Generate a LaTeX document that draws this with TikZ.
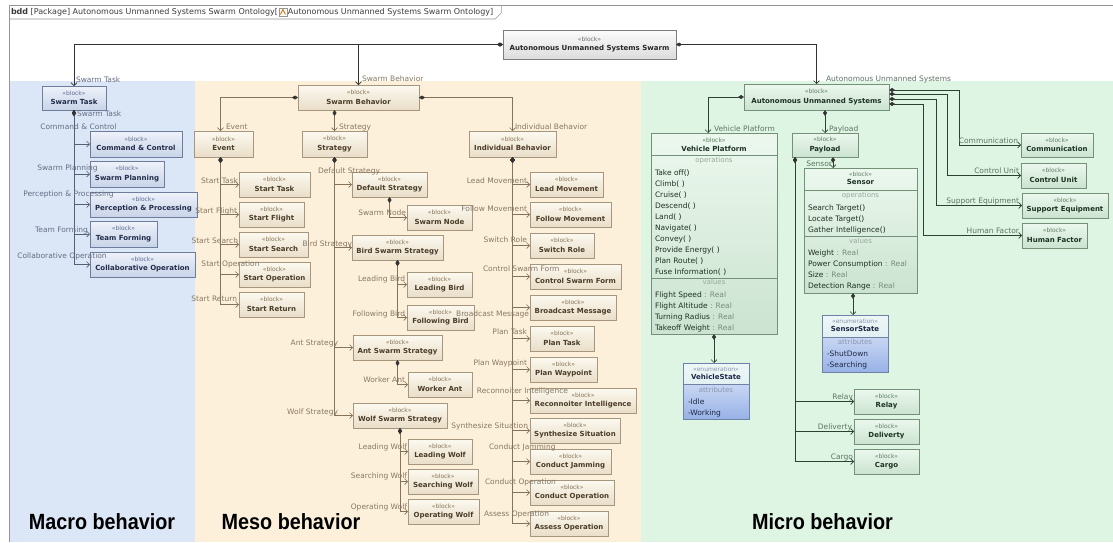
\documentclass[tikz,border=0pt]{standalone}
\usepackage{fontspec}
\usepackage{graphicx}
\setmainfont{DejaVu Sans}
\newfontfamily\bandfont{Liberation Sans}
\usetikzlibrary{arrows.meta,calc}

% region backgrounds and frame
\definecolor{macBg}{RGB}{219,231,246}
\definecolor{mesBg}{RGB}{253,240,219}
\definecolor{micBg}{RGB}{223,245,228}
\definecolor{frameC}{RGB}{150,150,150}
\definecolor{hdrTxt}{RGB}{60,60,60}
% macro (blue) blocks
\definecolor{macTop}{RGB}{238,242,250}
\definecolor{macBot}{RGB}{200,212,232}
\definecolor{macBrd}{RGB}{110,125,155}
\definecolor{macTxt}{RGB}{35,45,75}
\definecolor{macSt}{RGB}{95,108,145}
\definecolor{macLn}{RGB}{85,95,120}
\definecolor{macLbl}{RGB}{100,110,135}
% meso (beige) blocks
\definecolor{mesTop}{RGB}{252,249,240}
\definecolor{mesBot}{RGB}{233,222,200}
\definecolor{mesBrd}{RGB}{165,150,125}
\definecolor{mesTxt}{RGB}{75,60,40}
\definecolor{mesSt}{RGB}{135,115,85}
\definecolor{mesLn}{RGB}{130,115,90}
\definecolor{mesLbl}{RGB}{135,120,100}
% micro (green) blocks
\definecolor{micTop}{RGB}{236,248,238}
\definecolor{micBot}{RGB}{203,227,208}
\definecolor{micBrd}{RGB}{115,145,120}
\definecolor{micTxt}{RGB}{30,50,35}
\definecolor{micSt}{RGB}{95,125,100}
\definecolor{micLn}{RGB}{45,65,50}
\definecolor{micLbl}{RGB}{95,115,100}
\definecolor{micSec}{RGB}{150,170,155}
\definecolor{micVal}{RGB}{120,140,125}
% root block
\definecolor{topTop}{RGB}{252,252,252}
\definecolor{topBot}{RGB}{220,220,220}
\definecolor{topBrd}{RGB}{125,125,125}
\definecolor{topSt}{RGB}{110,110,110}
\definecolor{topTxt}{RGB}{40,40,40}
\definecolor{topLn}{RGB}{50,50,50}
% enumerations
\definecolor{enTop}{RGB}{238,247,247}
\definecolor{enMid}{RGB}{208,230,234}
\definecolor{enLoT}{RGB}{200,214,243}
\definecolor{enLoB}{RGB}{152,178,230}
\definecolor{enBrd}{RGB}{110,130,165}
\definecolor{enTxt}{RGB}{30,40,70}
\definecolor{enSec}{RGB}{140,150,175}

% a block: region prefix, name, x1, y1, x2, y2, title
\newcommand\blk[7]{%
  \node[#1blk, minimum width={#5-#3}, minimum height={#6-#4}] (#2)
    at ({(#3+#5)/2},{(#4+#6)/2})
    {{\color{#1St}\fontsize{6}{7}\selectfont «block»}\\{\bfseries #7}};}

\begin{document}
\begin{tikzpicture}[x=1pt,y=-1pt,
  every node/.style={inner sep=0pt, outer sep=0pt},
  blk/.style={rectangle, line width=0.7pt, align=center, font=\fontsize{7}{9.5}\selectfont},
  topblk/.style={blk, draw=topBrd, top color=topTop, bottom color=topBot, text=topTxt},
  macblk/.style={blk, draw=macBrd, top color=macTop, bottom color=macBot, text=macTxt},
  mesblk/.style={blk, draw=mesBrd, top color=mesTop, bottom color=mesBot, text=mesTxt},
  micblk/.style={blk, draw=micBrd, top color=micTop, bottom color=micBot, text=micTxt},
  micbox/.style={rectangle, line width=0.7pt, draw=micBrd, top color=micTop, bottom color=micBot},
  enumbox/.style={rectangle, line width=0.7pt, draw=enBrd, top color=enTop, bottom color=enMid},
  hdr/.style={align=center, font=\fontsize{7}{8.5}\selectfont},
  sec/.style={font=\fontsize{7}{8}\selectfont, text height=5pt, text depth=1.5pt},
  item/.style={anchor=west, font=\fontsize{7.5}{9}\selectfont, text height=5.5pt, text depth=1.5pt},
  conn/.style={line width=0.6pt,
    {Diamond[length=6pt,width=4pt,color=black!80]}-{Straight Barb[length=3pt,width=6pt]}},
  topc/.style={conn, draw=topLn},
  macc/.style={conn, draw=macLn},
  mesc/.style={conn, draw=mesLn},
  micc/.style={conn, draw=micLn},
  lbl/.style={font=\fontsize{7.5}{9}\selectfont, text height=5.5pt, text depth=1.5pt},
  maclbl/.style={lbl, text=macLbl},
  meslbl/.style={lbl, text=mesLbl},
  miclbl/.style={lbl, text=micLbl},
  band/.style={font={\bandfont\fontsize{22}{24}\selectfont\bfseries}, text=black}
]
\useasboundingbox (0,0) rectangle (1113,542);
\fill[white] (0,0) rectangle (1113,542);

% three behaviour bands
\fill[macBg] (10,81) rectangle (195,542);
\fill[mesBg] (195,81) rectangle (641,542);
\fill[micBg] (641,81) rectangle (1113,542);

% diagram frame and its name tab
\draw[frameC, line width=0.6pt] (9,542) -- (9,5) -- (1113,5);
\node[anchor=west, text=hdrTxt, font=\fontsize{8}{9}\selectfont] (h1) at (11,12)
  {\textbf{bdd} [Package] Autonomous Unmanned Systems Swarm Ontology[};
\node[draw=frameC, fill=white, line width=0.5pt, minimum size=8, anchor=west] (hicon) at ([xshift=1]h1.east) {};
\draw[orange!85!black, line width=0.9pt] ($(hicon.center)+(-2.5,2.5)$) -- ($(hicon.center)+(0,-2.5)$) -- ($(hicon.center)+(2.5,2.5)$);
\node[anchor=west, text=hdrTxt, font=\fontsize{8}{9}\selectfont] (h2) at ([xshift=1]hicon.east)
  {Autonomous Unmanned Systems Swarm Ontology]};
\draw[frameC, line width=0.6pt] (9,19) -- ([xshift=2]h2.east |- 9,19) -- ([xshift=8]h2.east |- 9,13) -- ([xshift=8]h2.east |- 9,5);

% root block
\blk{top}{swarm}{503}{30}{676}{59}{Autonomous Unmanned Systems Swarm}

% macro behaviour blocks
\blk{mac}{stk}{42}{86}{106}{110}{Swarm Task}
\blk{mac}{cc}{90}{131}{182}{157}{Command \& Control}
\blk{mac}{sp}{90}{161}{164}{187}{Swarm Planning}
\blk{mac}{pp}{90}{192}{197}{217}{Perception \& Processing}
\blk{mac}{tf}{90}{221}{157}{247}{Team Forming}
\blk{mac}{co}{90}{252}{195}{277}{Collaborative Operation}

% meso behaviour blocks
\blk{mes}{sb}{298}{85}{419}{110}{Swarm Behavior}
\blk{mes}{ev}{194}{131}{253}{157}{Event}
\blk{mes}{str}{302}{131}{367}{157}{Strategy}
\blk{mes}{ib}{469}{131}{556}{157}{Individual Behavior}
\blk{mes}{sta}{239}{172}{310}{197}{Start Task}
\blk{mes}{sfl}{239}{202}{304}{227}{Start Flight}
\blk{mes}{sse}{239}{232}{308}{257}{Start Search}
\blk{mes}{sop}{239}{262}{310}{287}{Start Operation}
\blk{mes}{sre}{239}{292}{304}{317}{Start Return}
\blk{mes}{ds}{352}{172}{427}{197}{Default Strategy}
\blk{mes}{sn}{407}{205}{472}{230}{Swarm Node}
\blk{mes}{bs}{352}{235}{443}{260}{Bird Swarm Strategy}
\blk{mes}{lb}{407}{272}{472}{297}{Leading Bird}
\blk{mes}{fb}{407}{305}{474}{330}{Following Bird}
\blk{mes}{as}{353}{335}{442}{360}{Ant Swarm Strategy}
\blk{mes}{wa}{408}{372}{472}{397}{Worker Ant}
\blk{mes}{ws}{353}{403}{447}{428}{Wolf Swarm Strategy}
\blk{mes}{lw}{408}{439}{472}{464}{Leading Wolf}
\blk{mes}{sw}{408}{469}{478}{494}{Searching Wolf}
\blk{mes}{ow}{408}{499}{479}{524}{Operating Wolf}
\blk{mes}{lm}{530}{172}{603}{197}{Lead Movement}
\blk{mes}{fm}{530}{202}{611}{227}{Follow Movement}
\blk{mes}{swr}{530}{233}{594}{258}{Switch Role}
\blk{mes}{csf}{530}{264}{621}{289}{Control Swarm Form}
\blk{mes}{bm}{530}{295}{616}{320}{Broadcast Message}
\blk{mes}{pt}{530}{326}{594}{351}{Plan Task}
\blk{mes}{pw}{530}{357}{597}{382}{Plan Waypoint}
\blk{mes}{ri}{530}{388}{636}{413}{Reconnoiter Intelligence}
\blk{mes}{ssi}{530}{418}{620}{443}{Synthesize Situation}
\blk{mes}{cj}{530}{449}{611}{474}{Conduct Jamming}
\blk{mes}{cop}{530}{480}{614}{505}{Conduct Operation}
\blk{mes}{ao}{530}{511}{608}{536}{Assess Operation}

% micro behaviour blocks
\blk{mic}{aus}{744}{84}{889}{110}{Autonomous Unmanned Systems}
\blk{mic}{pl}{792}{133}{858}{157}{Payload}
\blk{mic}{comm}{1021}{133}{1093}{157}{Communication}
\blk{mic}{cu}{1021}{163}{1086}{188}{Control Unit}
\blk{mic}{se}{1022}{193}{1108}{218}{Support Equipment}
\blk{mic}{hf}{1022}{223}{1087}{248}{Human Factor}
\blk{mic}{rel}{854}{389}{919}{414}{Relay}
\blk{mic}{del}{854}{419}{919}{444}{Deliverty}
\blk{mic}{car}{854}{449}{919}{474}{Cargo}

% Vehicle Platform with operations and values
\node[micbox, minimum width=126, minimum height=201] (vp) at (714,233.5) {};
\node[hdr, text=micTxt] (vph) at (714,145) {{\color{micSt}\fontsize{6}{7}\selectfont «block»}\\{\bfseries Vehicle Platform}};
\draw[micBrd, line width=0.7pt] ($(vp.north west)+(0,22)$) -- ($(vp.north east)+(0,22)$);
\draw[micBrd, line width=0.7pt] ($(vp.north west)+(0,145)$) -- ($(vp.north east)+(0,145)$);
\node[sec, text=micSec] (vpops) at (714,161) {operations};
\foreach \t [count=\i from 0] in {Take off(),Climb( ),Cruise( ),Descend( ),Land( ),Navigate( ),Convey( ),Provide Energy( ),Plan Route( ),Fuse Information( )}
  \node[item, text=micTxt] (vpo\i) at (655,{173+11*\i}) {\t};
\node[sec, text=micSec] (vpval) at (714,283) {values};
\foreach \t [count=\i from 0] in {Flight Speed {\color{micVal}: Real},Flight Altitude {\color{micVal}: Real},Turning Radius {\color{micVal} : Real},Takeoff Weight {\color{micVal}: Real}}
  \node[item, text=micTxt] (vpv\i) at (655,{295+11*\i}) {\t};

% Sensor with operations and values
\node[micbox, minimum width=113, minimum height=125] (sen) at (860.5,230.5) {};
\node[hdr, text=micTxt] (senh) at (860.5,178.5) {{\color{micSt}\fontsize{6}{7}\selectfont «block»}\\{\bfseries Sensor}};
\draw[micBrd, line width=0.7pt] ($(sen.north west)+(0,22)$) -- ($(sen.north east)+(0,22)$);
\draw[micBrd, line width=0.7pt] ($(sen.north west)+(0,68)$) -- ($(sen.north east)+(0,68)$);
\node[sec, text=micSec] (senops) at (860.5,196) {operations};
\foreach \t [count=\i from 0] in {Search Target(),Locate Target(),Gather Intelligence()}
  \node[item, text=micTxt] (seno\i) at (808,{208+11*\i}) {\t};
\node[sec, text=micSec] (senval) at (860.5,242) {values};
\foreach \t [count=\i from 0] in {Weight {\color{micVal} : Real},Power Consumption {\color{micVal}: Real},Size {\color{micVal} : Real},Detection Range {\color{micVal}: Real}}
  \node[item, text=micTxt] (senv\i) at (808,{253+11*\i}) {\t};

% enumerations
\node[enumbox, minimum width=66, minimum height=56] (vs) at (716,391) {};
\shade[top color=enLoT, bottom color=enLoB] (vs.west |- 0,384) rectangle (vs.south east);
\draw[enBrd, line width=0.7pt] (vs.north west) rectangle (vs.south east);
\draw[enBrd, line width=0.7pt] (vs.west |- 0,384) -- (vs.east |- 0,384);
\node[hdr, text=enTxt] (vsh) at (716,373.5) {{\color{enSec}\fontsize{6}{7}\selectfont «enumeration»}\\{\bfseries VehicleState}};
\node[sec, text=enSec] (vsatt) at (716,391) {attributes};
\node[item, text=enTxt] (vsi0) at (688,402) {-Idle};
\node[item, text=enTxt] (vsi1) at (688,413) {-Working};

\node[enumbox, minimum width=66, minimum height=57] (ss) at (855,343.5) {};
\shade[top color=enLoT, bottom color=enLoB] (ss.west |- 0,337) rectangle (ss.south east);
\draw[enBrd, line width=0.7pt] (ss.north west) rectangle (ss.south east);
\draw[enBrd, line width=0.7pt] (ss.west |- 0,337) -- (ss.east |- 0,337);
\node[hdr, text=enTxt] (ssh) at (855,325.5) {{\color{enSec}\fontsize{6}{7}\selectfont «enumeration»}\\{\bfseries SensorState}};
\node[sec, text=enSec] (ssatt) at (855,343) {attributes};
\node[item, text=enTxt] (ssi0) at (827,354) {-ShutDown};
\node[item, text=enTxt] (ssi1) at (827,365) {-Searching};

% root compositions
\draw[topc] (swarm.west) -| (stk.north);
\draw[topc] (swarm.west) -| (sb.north);
\draw[topc] (swarm.east) -| (aus.north);

% macro compositions
\foreach \nm in {cc,sp,pp,tf,co} \draw[macc] (stk.south) |- (\nm.west);

% meso compositions
\draw[mesc] (sb.west) -| ([xshift=-3]ev.north);
\draw[mesc] (sb.south -| str.north) -- (str.north);
\draw[mesc] (sb.east) -| (ib.north);
\foreach \nm in {sta,sfl,sse,sop,sre} \draw[mesc] ([xshift=-3]ev.south) |- (\nm.west);
\foreach \nm in {ds,bs,as,ws} \draw[mesc] (str.south) |- (\nm.west);
\draw[mesc] (ds.south) |- (sn.west);
\foreach \nm in {lb,fb} \draw[mesc] (bs.south) |- (\nm.west);
\draw[mesc] (as.south) |- (wa.west);
\foreach \nm in {lw,sw,ow} \draw[mesc] (ws.south) |- (\nm.west);
\foreach \nm in {lm,fm,swr,csf,bm,pt,pw,ri,ssi,cj,cop,ao} \draw[mesc] (ib.south) |- (\nm.west);

% micro compositions
\draw[micc] (aus.west) -| ([xshift=-6]vp.north);
\draw[micc] (aus.south -| pl.north) -- (pl.north);
\draw[micc] ([xshift=8]pl.south) -- ([xshift=8]pl.south |- sen.north);
\foreach \nm in {rel,del,car} \draw[micc] ([xshift=-30]pl.south) |- (\nm.west);
\draw[micc] (vp.south) -- (vp.south |- vs.north);
\draw[micc] ([xshift=-7.5]sen.south) -- ([xshift=-7.5]sen.south |- ss.north);
\draw[micc] ([yshift=7]aus.east) -| ([xshift=-62]comm.west) -- (comm.west);
\draw[micc] ([yshift=3]aus.east) -| ([xshift=-74]cu.west) -- (cu.west);
\draw[micc] ([yshift=-2]aus.east) -| ([xshift=-86]se.west) -- (se.west);
\draw[micc] ([yshift=-7]aus.east) -| ([xshift=-99]hf.west) -- (hf.west);

% role names
\node[maclbl, anchor=west] (l-stk) at (76,80) {Swarm Task};
\node[meslbl, anchor=west] (l-sb) at (362,79) {Swarm Behavior};
\node[miclbl, anchor=west] (l-aus) at (826,79) {Autonomous Unmanned Systems};

\node[maclbl, anchor=west] (l-stk2) at (77,114) {Swarm Task};
\node[maclbl] (l-cc) at (78.5,127) {Command \& Control};
\node[maclbl] (l-sp) at (67.5,168) {Swarm Planning};
\node[maclbl] (l-pp) at (68.5,194) {Perception \& Processing};
\node[maclbl] (l-tf) at (61.5,230) {Team Forming};
\node[maclbl] (l-co) at (62,256) {Collaborative Operation};

\node[meslbl, anchor=west] (l-ev) at (226,127) {Event};
\node[meslbl, anchor=west] (l-str) at (339,127) {Strategy};
\node[meslbl, anchor=west] (l-ib) at (515,127) {Individual Behavior};
\node[meslbl, anchor=east] (l-sta) at (238,181) {Start Task};
\node[meslbl, anchor=east] (l-sfl) at (237,211) {Start Flight};
\node[meslbl, anchor=east] (l-sse) at (238,241) {Start Search};
\node[meslbl] (l-sop) at (230.5,264) {Start Operation};
\node[meslbl, anchor=east] (l-sre) at (237,299) {Start Return};
\node[meslbl] (l-ds) at (349,171) {Default Strategy};
\node[meslbl, anchor=east] (l-sn) at (406,213) {Swarm Node};
\node[meslbl, anchor=east] (l-bs) at (352,244) {Bird Strategy};
\node[meslbl, anchor=east] (l-lb) at (405,279) {Leading Bird};
\node[meslbl, anchor=east] (l-fb) at (405,314) {Following Bird};
\node[meslbl, anchor=east] (l-as) at (338,343) {Ant Strategy};
\node[meslbl, anchor=east] (l-wa) at (405,380) {Worker Ant};
\node[meslbl, anchor=east] (l-ws) at (338,412) {Wolf Strategy};
\node[meslbl, anchor=east] (l-lw) at (407,447) {Leading Wolf};
\node[meslbl, anchor=east] (l-sw) at (407,476) {Searching Wolf};
\node[meslbl, anchor=east] (l-ow) at (407,507) {Operating Wolf};
\node[meslbl, anchor=east] (l-lm) at (527,181) {Lead Movement};
\node[meslbl, anchor=east] (l-fm) at (527,209) {Follow Movement};
\node[meslbl, anchor=east] (l-swr) at (527,240) {Switch Role};
\node[meslbl, anchor=west] (l-csf) at (483,269) {Control Swarm Form};
\node[meslbl, anchor=east] (l-bm) at (529,314) {Broadcast Message};
\node[meslbl, anchor=east] (l-pt) at (527,332) {Plan Task};
\node[meslbl, anchor=east] (l-pw) at (527,363) {Plan Waypoint};
\node[meslbl, anchor=east] (l-ri) at (568,391) {Reconnoiter Intelligence};
\node[meslbl, anchor=east] (l-ssi) at (528,426) {Synthesize Situation};
\node[meslbl, anchor=west] (l-cj) at (489,447) {Conduct Jamming};
\node[meslbl, anchor=west] (l-cop) at (485,482) {Conduct Operation};
\node[meslbl, anchor=west] (l-ao) at (484,514) {Assess Operation};

\node[miclbl, anchor=west] (l-vp) at (714,129) {Vehicle Platform};
\node[miclbl, anchor=west] (l-pl) at (829,129) {Payload};
\node[miclbl, anchor=east] (l-sen) at (832,164) {Sensor};
\node[miclbl, anchor=east] (l-comm) at (1018,141) {Communication};
\node[miclbl, anchor=east] (l-cu) at (1019,171) {Control Unit};
\node[miclbl, anchor=east] (l-se) at (1019,201) {Support Equipment};
\node[miclbl, anchor=east] (l-hf) at (1019,231) {Human Factor};
\node[miclbl, anchor=east] (l-rel) at (853,397) {Relay};
\node[miclbl, anchor=east] (l-del) at (852,427) {Deliverty};
\node[miclbl, anchor=east] (l-car) at (853,457) {Cargo};

% band titles
\node[band] (b-mac) at (102,522) {\scalebox{0.9}[1]{Macro behavior}};
\node[band] (b-mes) at (291,522) {\scalebox{0.9}[1]{Meso behavior}};
\node[band] (b-mic) at (822.5,522) {\scalebox{0.9}[1]{Micro behavior}};
\end{tikzpicture}
\end{document}
